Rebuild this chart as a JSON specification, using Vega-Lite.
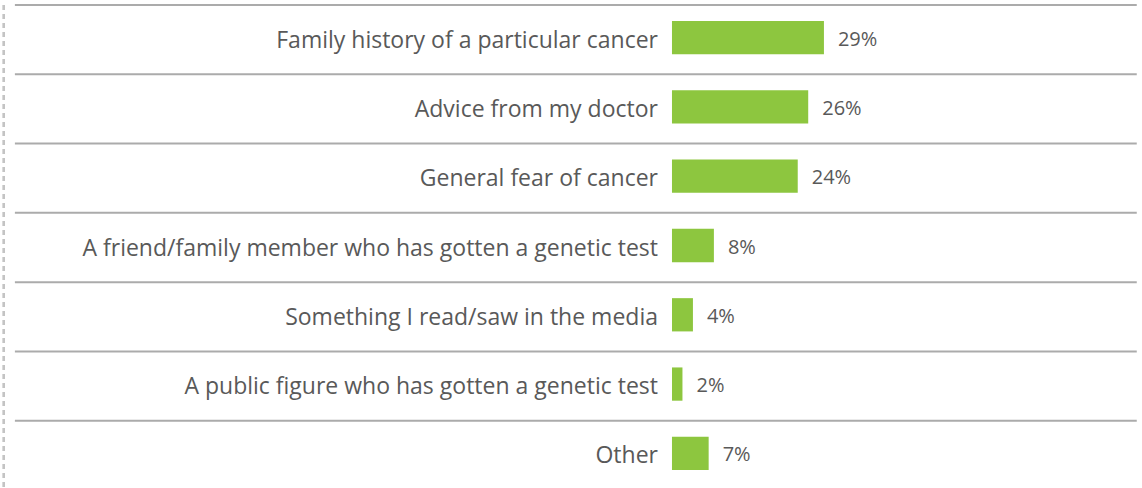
{
  "$schema": "https://vega.github.io/schema/vega-lite/v6.json",
  "width": 1140,
  "height": 485,
  "autosize": {"type": "none"},
  "padding": {"left": 2, "top": 5, "right": 0, "bottom": 0},
  "background": "white",
  "config": {"view": {"stroke": null}},
  "data": {"values": [
    {"reason": "Family history of a particular cancer", "pct": 0.29},
    {"reason": "Advice from my doctor", "pct": 0.26},
    {"reason": "General fear of cancer", "pct": 0.24},
    {"reason": "A friend/family member who has gotten a genetic test", "pct": 0.08},
    {"reason": "Something I read/saw in the media", "pct": 0.04},
    {"reason": "A public figure who has gotten a genetic test", "pct": 0.02},
    {"reason": "Other", "pct": 0.07}
  ]},
  "layer": [
    {
      "mark": {"type": "rule", "color": "#ABABAB", "strokeWidth": 2},
      "encoding": {
        "y": {"field": "reason", "type": "nominal", "sort": null, "bandPosition": 0,
              "scale": {"paddingInner": 0, "paddingOuter": 0}, "axis": null},
        "x": {"datum": -1.254, "type": "quantitative",
              "scale": {"domain": [-1.2786, 0.897], "nice": false, "zero": false}, "axis": null},
        "x2": {"datum": 0.887}
      }
    },
    {
      "mark": {"type": "bar", "color": "#8DC63F", "height": {"band": 0.48}, "yOffset": -2},
      "encoding": {
        "y": {"field": "reason", "type": "nominal", "sort": null},
        "x": {"field": "pct", "type": "quantitative"}
      }
    },
    {
      "mark": {"type": "text", "align": "left", "dx": 14, "dy": 0, "font": "Open Sans", "fontSize": 20, "color": "#595959"},
      "encoding": {
        "y": {"field": "reason", "type": "nominal", "sort": null},
        "x": {"field": "pct", "type": "quantitative"},
        "text": {"field": "pct", "type": "quantitative", "format": ".0%"}
      }
    },
    {
      "mark": {"type": "text", "align": "right", "dx": -14, "dy": 1, "font": "Open Sans", "fontSize": 23, "color": "#595959"},
      "encoding": {
        "y": {"field": "reason", "type": "nominal", "sort": null},
        "x": {"datum": 0, "type": "quantitative"},
        "text": {"field": "reason", "type": "nominal"}
      }
    },
    {
      "mark": {"type": "rule", "color": "#C4C4C4", "strokeWidth": 2, "strokeDash": [5, 4]},
      "encoding": {
        "x": {"datum": -1.275, "type": "quantitative"}
      }
    }
  ]
}
